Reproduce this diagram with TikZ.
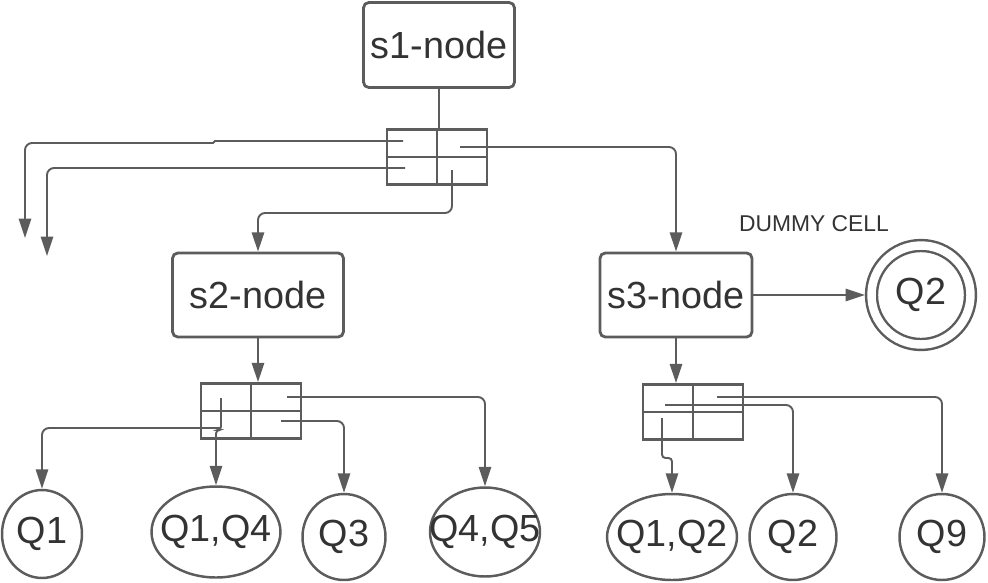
\documentclass[tikz,border=0pt]{standalone}
\usepackage{fontspec}
\setmainfont{Liberation Sans}
\usepackage{xcolor}
\usepackage{tikz}
\usetikzlibrary{shapes.geometric, arrows.meta, positioning, calc}
\definecolor{linegray}{HTML}{5C5C5C}
\definecolor{textgray}{HTML}{333333}

\begin{document}
\begin{tikzpicture}[x=0.02cm, y=-0.02cm,
  box/.style={rectangle, draw=linegray, line width=1.6pt, rounded corners=3pt, text=textgray, font=\fontsize{21.5}{25}\selectfont},
  grid/.style={rectangle, draw=linegray, line width=1.6pt, minimum width=2cm, minimum height=1.1cm},
  gridline/.style={draw=linegray, line width=1.6pt},
  leaf/.style={ellipse, draw=linegray, line width=1.4pt, inner sep=0pt, text=textgray, font=\fontsize{21.5}{25}\selectfont},
  link/.style={draw=linegray, line width=1.1pt},
  arrow/.style={link, -{Triangle[length=11pt, width=7pt]}, rounded corners=4pt}
]
  \useasboundingbox (0,0) rectangle (988,582);

  \node[box, minimum width=3.02cm, minimum height=1.7cm] (s1) at (439,45) {s1-node};
  \node[box, minimum width=3.42cm, minimum height=1.68cm] (s2) at (258,295) {s2-node};
  \node[box, minimum width=3.04cm, minimum height=1.68cm] (s3) at (676,295) {s3-node};

  \node[grid] (g1) at (437,157) {};
  \node[grid] (g2) at (251,411) {};
  \node[grid] (g3) at (693,412) {};
  \foreach \g in {g1,g2,g3}
    \draw[gridline] (\g.north) -- (\g.south) (\g.west) -- (\g.east);

  \node[leaf, circle, minimum size=1.98cm, double, double distance=4.8pt, outer sep=3.7pt] (q2d) at (921,295) {Q2};
  \node[text=textgray, font=\fontsize{13}{15}\selectfont] (dummy) at (814,224) {DUMMY CELL};

  \node[leaf, minimum width=1.6cm, minimum height=1.76cm] (q1) at (42,534) {Q1};
  \node[leaf, minimum width=2.58cm, minimum height=1.82cm] (q14) at (216,532) {\makebox[0pt]{Q1,Q4}};
  \node[leaf, minimum width=1.66cm, minimum height=1.72cm] (q3) at (344,537) {Q3};
  \node[leaf, minimum width=2.2cm, minimum height=1.78cm] (q45) at (485,532) {\makebox[0pt]{Q4,Q5}};
  \node[leaf, minimum width=2.6cm, minimum height=1.72cm] (q12) at (672,537) {\makebox[0pt]{Q1,Q2}};
  \node[leaf, minimum width=1.74cm, minimum height=1.72cm] (q2b) at (793,537) {Q2};
  \node[leaf, minimum width=1.7cm, minimum height=1.72cm] (q9) at (942,537) {Q9};

  \coordinate (g1a) at (403,141);
  \coordinate (g1b) at (405,168);
  \coordinate (g1c) at (452,170);
  \coordinate (g1d) at (460,147);
  \coordinate (out1) at (25,238);
  \coordinate (out2) at (47,256);
  \coordinate (g2a) at (221,398);
  \coordinate (g2b) at (221,428);
  \coordinate (g2c) at (287,397);
  \coordinate (g2d) at (281,421);
  \coordinate (g3a) at (717,397);
  \coordinate (g3b) at (665,405);
  \coordinate (g3c) at (662,418);

  \draw[link] (s1.south) -- (s1.south |- g1.north);
  \draw[arrow] (g1a) [sharp corners] -- ++(-188,0) -- ++(-2,2) [rounded corners=4pt] -| (out1);
  \draw[arrow] (g1b) -| (out2);
  \draw[arrow] (g1c) -- ++(0,43) -| (s2.north);
  \draw[arrow] (g1d) -| (s3.north);

  \draw[arrow] (s2.south) -- (s2.south |- g2.north);
  \draw[arrow] (g2b) -| (q1.north);
  \draw[arrow, rounded corners=2pt] (g2a) -- ++(0,32) -| (q14.north);
  \draw[arrow] (g2d) -| (q3.north);
  \draw[arrow] (g2c) -| (q45.north);

  \draw[arrow] (s3.south) -- (s3.south |- g3.north);
  \draw[arrow, rounded corners=2pt] (g3c) -- ++(0,40) -| (q12.north);
  \draw[arrow] (g3b) -| (q2b.north);
  \draw[arrow] (g3a) -| (q9.north);
  \draw[arrow] (s3.east) -- (q2d.west);
\end{tikzpicture}
\end{document}
